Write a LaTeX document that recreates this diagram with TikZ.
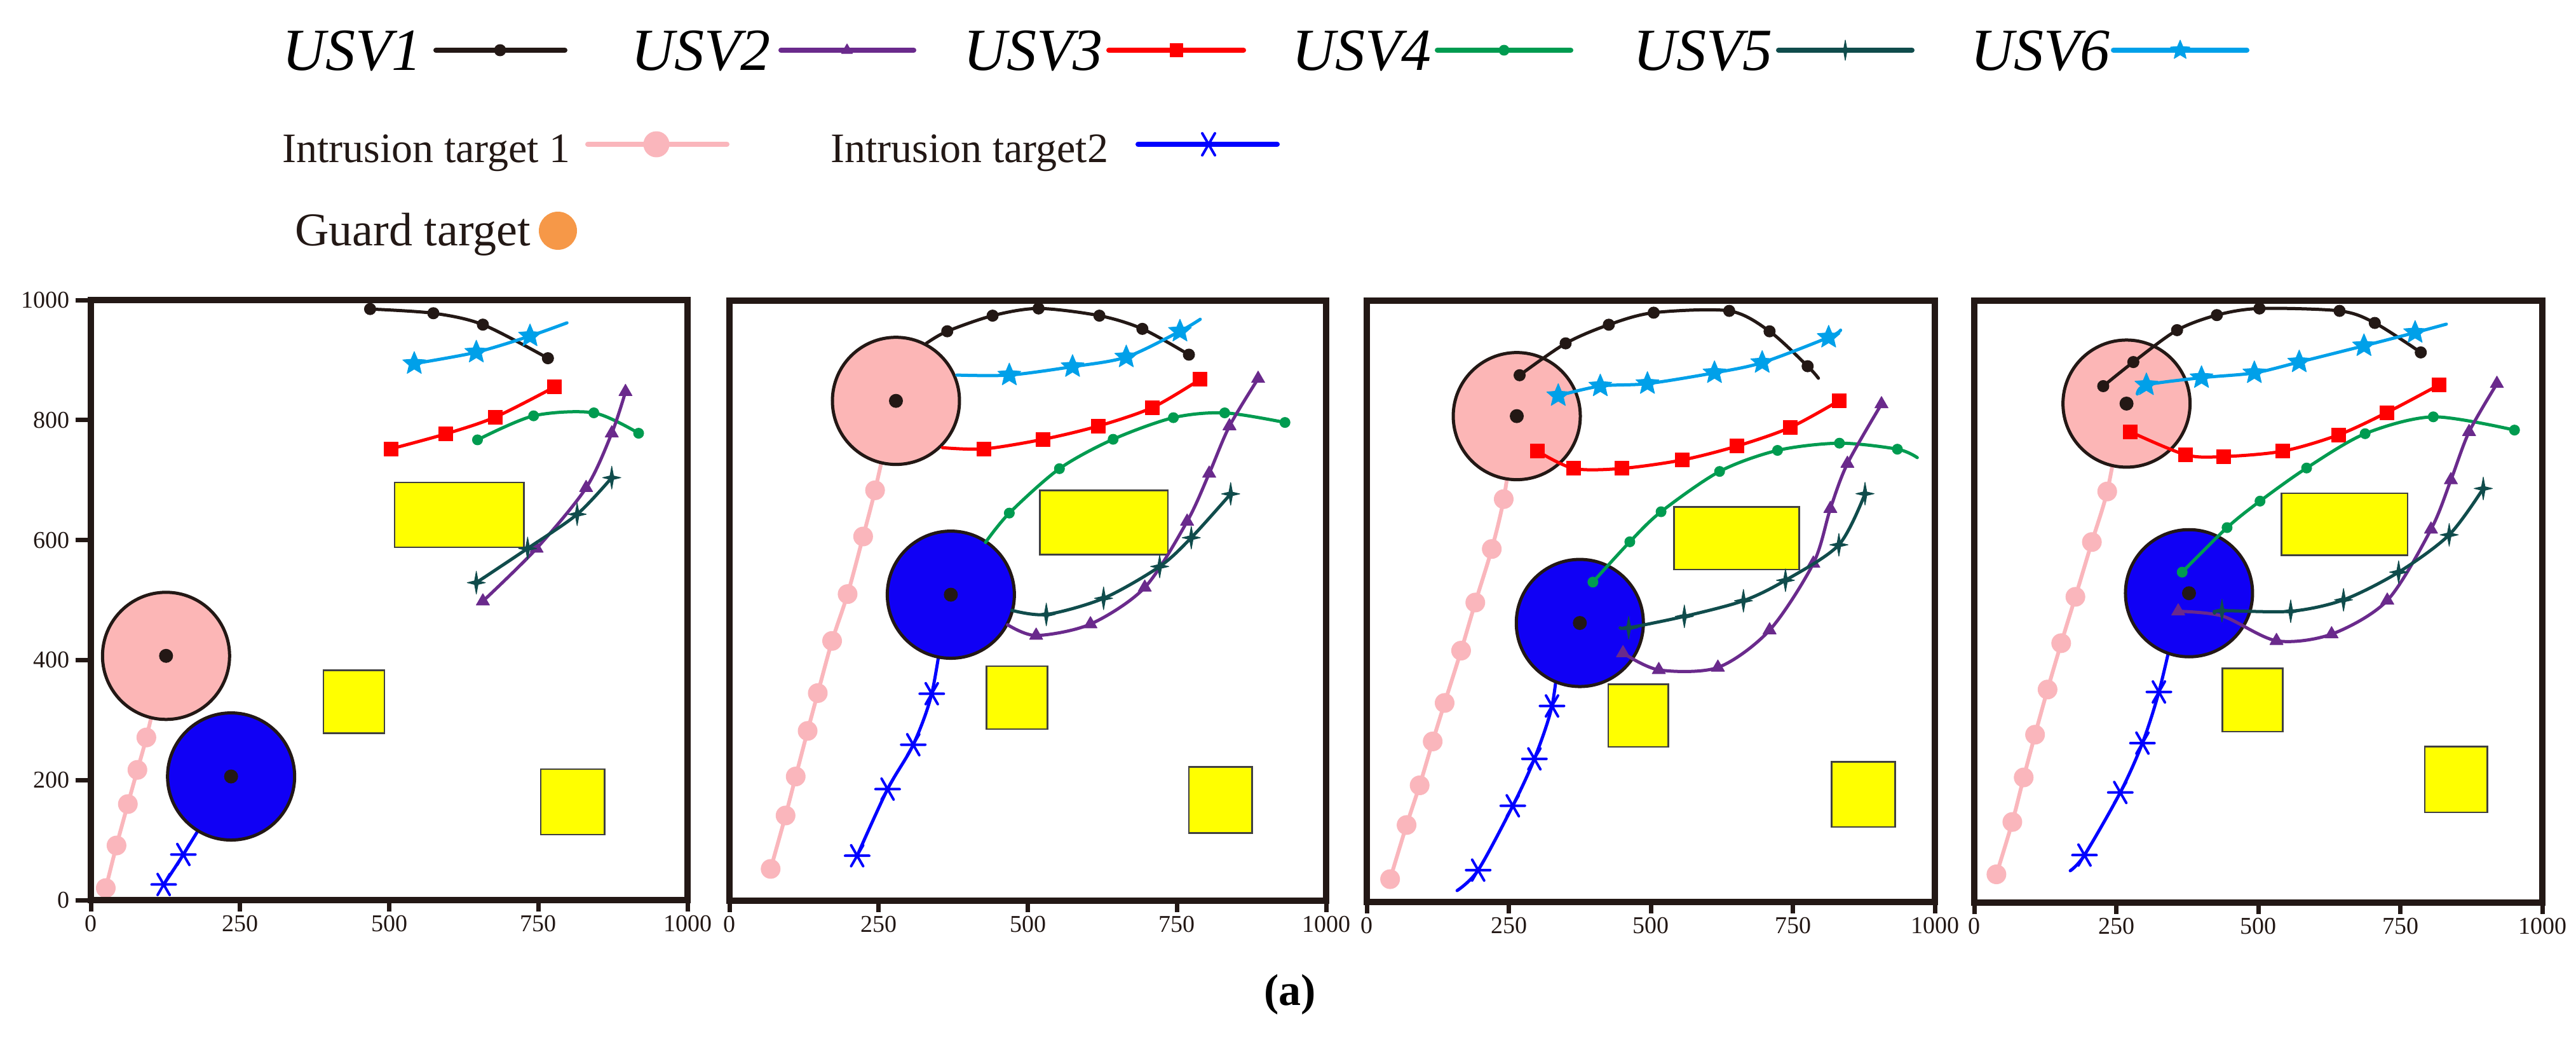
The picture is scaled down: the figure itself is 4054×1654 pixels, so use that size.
\documentclass[tikz,border=0pt]{standalone}
\usepackage{fontspec}
\setmainfont{Liberation Serif}
\usetikzlibrary{plotmarks}
\pgfdeclareplotmark{fivestar}{%
  \pgfpathmoveto{\pgfpointpolar{90}{\pgfplotmarksize}}%
  \pgfpathlineto{\pgfpointpolar{126}{0.45\pgfplotmarksize}}%
  \pgfpathlineto{\pgfpointpolar{162}{\pgfplotmarksize}}%
  \pgfpathlineto{\pgfpointpolar{198}{0.45\pgfplotmarksize}}%
  \pgfpathlineto{\pgfpointpolar{234}{\pgfplotmarksize}}%
  \pgfpathlineto{\pgfpointpolar{270}{0.45\pgfplotmarksize}}%
  \pgfpathlineto{\pgfpointpolar{306}{\pgfplotmarksize}}%
  \pgfpathlineto{\pgfpointpolar{342}{0.45\pgfplotmarksize}}%
  \pgfpathlineto{\pgfpointpolar{18}{\pgfplotmarksize}}%
  \pgfpathlineto{\pgfpointpolar{54}{0.45\pgfplotmarksize}}%
  \pgfpathclose\pgfusepathqfillstroke}
\pgfdeclareplotmark{fourstar}{%
  \pgfpathmoveto{\pgfpointpolar{90}{\pgfplotmarksize}}%
  \pgfpathlineto{\pgfpointpolar{45}{0.22\pgfplotmarksize}}%
  \pgfpathlineto{\pgfpointpolar{0}{0.8\pgfplotmarksize}}%
  \pgfpathlineto{\pgfpointpolar{-45}{0.22\pgfplotmarksize}}%
  \pgfpathlineto{\pgfpointpolar{-90}{\pgfplotmarksize}}%
  \pgfpathlineto{\pgfpointpolar{-135}{0.22\pgfplotmarksize}}%
  \pgfpathlineto{\pgfpointpolar{180}{0.8\pgfplotmarksize}}%
  \pgfpathlineto{\pgfpointpolar{135}{0.22\pgfplotmarksize}}%
  \pgfpathclose\pgfusepathqfillstroke}
\pgfdeclareplotmark{sixast}{%
  \pgfpathmoveto{\pgfpointpolar{0}{\pgfplotmarksize}}\pgfpathlineto{\pgfpointpolar{180}{\pgfplotmarksize}}%
  \pgfpathmoveto{\pgfpointpolar{60}{\pgfplotmarksize}}\pgfpathlineto{\pgfpointpolar{240}{\pgfplotmarksize}}%
  \pgfpathmoveto{\pgfpointpolar{120}{\pgfplotmarksize}}\pgfpathlineto{\pgfpointpolar{300}{\pgfplotmarksize}}%
  \pgfusepathqstroke}
\definecolor{cblk}{RGB}{35,24,21}
\definecolor{cpur}{RGB}{106,42,140}
\definecolor{cred}{RGB}{255,0,0}
\definecolor{cgrn}{RGB}{0,155,80}
\definecolor{cteal}{RGB}{16,76,76}
\definecolor{ccyan}{RGB}{0,160,233}
\definecolor{cpink}{RGB}{250,182,188}
\definecolor{cpinkdisk}{RGB}{252,182,182}
\definecolor{cblue}{RGB}{0,0,255}
\definecolor{cbluedisk}{RGB}{16,0,245}
\definecolor{cyel}{RGB}{255,255,0}
\definecolor{corange}{RGB}{246,152,72}
\tikzset{
  traj/.style={line width=5pt, line join=round, line cap=round},
  u1/.style={traj, color=cblk, mark=*, mark size=9pt, mark options={line width=1pt}},
  u2/.style={traj, color=cpur, mark=triangle*, mark size=12pt, mark options={line width=1pt}},
  u3/.style={traj, color=cred, mark=square*, mark size=11pt, mark options={line width=1pt}},
  u4/.style={traj, color=cgrn, mark=*, mark size=8pt, mark options={line width=1pt}},
  u5/.style={traj, color=cteal, mark=fourstar, mark size=18pt, mark options={line width=1pt}},
  u6/.style={traj, color=ccyan, mark=fivestar, mark size=19pt, mark options={line width=1pt}},
  it1/.style={traj, color=cpink, line width=6pt, mark=*, mark size=15pt, mark options={line width=1pt}},
  it2/.style={traj, color=cblue, mark=sixast, mark size=19pt, mark options={line width=4pt}},
  pdisk/.style={fill=cpinkdisk, draw=cblk, line width=5pt},
  bdisk/.style={fill=cbluedisk, draw=cblk, line width=5pt},
  cdot/.style={fill=cblk},
  obst/.style={fill=cyel, draw=black!75, line width=2.5pt},
  frame/.style={draw=cblk, line width=10pt, line join=miter},
  tickln/.style={draw=cblk, line width=7pt},
  ticklab/.style={font=\fontsize{38}{38}\selectfont, inner sep=0pt, text=cblk},
  usvlab/.style={font=\itshape\fontsize{94}{94}\selectfont, inner sep=0pt, anchor=base west},
  leglab/.style={font=\fontsize{66}{66}\selectfont, inner sep=0pt, anchor=base west, text=cblk},
}
\begin{document}
\begin{tikzpicture}[x=1pt, y=-1pt]
\fill[white] (0,0) rectangle (4054,1654);
\useasboundingbox (0,0) rectangle (4054,1654);

% ---------- legend ----------
\node[usvlab] (l1) at (444,110) {USV1};
\draw[u1, line width=8pt, mark indices={2}] plot coordinates {(686,79) (787,79) (889,79)};
\node[usvlab] (l2) at (993,110) {USV2};
\draw[u2, line width=8pt, mark size=10pt, mark indices={2}] plot coordinates {(1229,79) (1333,79) (1438,79)};
\node[usvlab] (l3) at (1516,110) {USV3};
\draw[u3, line width=8pt, mark size=10pt, mark indices={2}] plot coordinates {(1745,79) (1851,79) (1957,79)};
\node[usvlab] (l4) at (2033,110) {USV4};
\draw[u4, line width=8pt, mark indices={2}] plot coordinates {(2262,79) (2367,79) (2472,79)};
\node[usvlab] (l5) at (2570,110) {USV5};
\draw[u5, line width=8pt, mark size=16pt, mark indices={2}] plot coordinates {(2799,79) (2904,79) (3009,79)};
\node[usvlab] (l6) at (3101,110) {USV6};
\draw[u6, line width=8pt, mark size=16pt, mark indices={2}] plot coordinates {(3326,79) (3431,79) (3536,79)};

\node[leglab] (li1) at (444,255) {Intrusion target 1};
\draw[it1, line width=8pt, mark size=20pt, mark indices={2}] plot coordinates {(925,227) (1033,227) (1144,227)};
\node[leglab] (li2) at (1307,255) {Intrusion target2};
\draw[it2, line width=8pt, mark size=20pt, mark indices={2}] plot coordinates {(1791,227) (1902,227) (2010,227)};
\node[leglab, font=\fontsize{74}{74}\selectfont] (lg) at (464,386) {Guard target};
\fill[corange] (878,363) circle[radius=30pt];

% ---------- panel 1 ----------
\begin{scope}[shift={(143,1416)}, x={(0.939pt,0pt)}, y={(0pt,0.944pt)}]
\draw[it1, mark indices={1,...,5}] plot[smooth] coordinates {(25,20) (43,91) (62,160) (78,217) (93,271) (126,407)};
\draw[it2, mark indices={1,2}] plot[smooth] coordinates {(122,26) (155,76) (235,206)};
\filldraw[pdisk] (126,407) circle[radius=100pt];
\fill[cdot] (126,407) circle[radius=11pt];
\filldraw[bdisk] (235,206) circle[radius=100pt];
\fill[cdot] (235,206) circle[radius=11pt];
\filldraw[obst] (509,588) rectangle (726,696);
\filldraw[obst] (390,278) rectangle (492,383);
\filldraw[obst] (754,109) rectangle (861,218);
\draw[u1] plot[smooth] coordinates {(468,985) (574,978) (657,959) (766,903)};
\draw[u6, mark indices={1,2,3}] plot[smooth] coordinates {(542,894) (646,913) (736,940) (798,962)};
\draw[u3] plot[smooth] coordinates {(503,752) (595,777) (678,805) (777,855)};
\draw[u4] plot[smooth] coordinates {(648,767) (742,807) (843,812) (918,778)};
\draw[u2] plot[smooth] coordinates {(657,498) (747,586) (830,687) (873,778) (896,847)};
\draw[u5] plot[smooth] coordinates {(646,529) (732,586) (815,643) (873,704)};
\draw[frame] (0,0) rectangle (1000,1000);
\foreach \x in {0,250,500,750,1000} {
  \draw[tickln] (\x,0) -- ++(0,-18pt);
  \node[ticklab, anchor=north] (pa\x) at ([yshift=-24pt]\x,0) {\x};
}
\foreach \y in {0,200,400,600,800,1000} {
  \draw[tickln] (0,\y) -- ++(-24pt,0);
  \node[ticklab, anchor=east] (pay\y) at ([xshift=-33pt]0,\y) {\y};
}
\end{scope}

% ---------- panel 2 ----------
\begin{scope}[shift={(1148,1417)}, x={(0.939pt,0pt)}, y={(0pt,0.944pt)}]
\draw[it1, mark indices={1,...,9}] plot[smooth] coordinates {(69,53) (94,142) (111,207) (131,283) (148,346) (172,433) (198,511) (224,607) (244,684) (270,800)};
\draw[it2, mark indices={1,...,4}] plot[smooth] coordinates {(214,75) (265,186) (308,260) (339,345) (360,470)};
\filldraw[pdisk] (279,833) circle[radius=100pt];
\fill[cdot] (279,833) circle[radius=11pt];
\filldraw[bdisk] (371,510) circle[radius=100pt];
\fill[cdot] (371,510) circle[radius=11pt];
\filldraw[obst] (520,577) rectangle (735,684);
\filldraw[obst] (431,286) rectangle (533,391);
\filldraw[obst] (770,113) rectangle (876,223);
\draw[u1, mark indices={2,...,7}] plot[smooth] coordinates {(330,929) (365,949) (441,975) (518,987) (620,975) (692,953) (770,910)};
\draw[u6, mark indices={2,...,5}] plot[smooth] coordinates {(381,876) (469,876) (575,890) (665,906) (755,949) (789,969)};
\draw[u3, mark indices={2,...,6}] plot[smooth] coordinates {(357,755) (427,753) (526,769) (618,791) (709,822) (789,869)};
\draw[u4, mark indices={2,...,7}] plot[smooth] coordinates {(429,597) (469,646) (553,720) (643,769) (744,805) (830,813) (931,797)};
\draw[u2, mark indices={2,...,8}] plot[smooth] coordinates {(466,460) (514,442) (605,461) (696,522) (767,632) (804,712) (838,791) (886,870)};
\draw[u5, mark indices={2,...,6}] plot[smooth] coordinates {(473,484) (531,477) (627,504) (721,557) (774,605) (840,678)};
\draw[frame] (0,0) rectangle (1000,1000);
\foreach \x in {0,250,500,750,1000} {
  \draw[tickln] (\x,0) -- ++(0,-18pt);
  \node[ticklab, anchor=north] (pb\x) at ([yshift=-24pt]\x,0) {\x};
}
\end{scope}

% ---------- panel 3 ----------
\begin{scope}[shift={(2151,1419)}, x={(0.894pt,0pt)}, y={(0pt,0.946pt)}]
\draw[it1, mark indices={1,...,9}] plot[smooth] coordinates {(41,38) (70,128) (93,194) (116,267) (137,331) (166,418) (191,498) (220,587) (241,670) (258,780)};
\draw[it2, mark indices={2,...,5}] plot[smooth] coordinates {(159,19) (196,53) (257,160) (295,238) (326,326) (340,430)};
\filldraw[pdisk] (264,808) circle[radius=100pt];
\fill[cdot] (264,808) circle[radius=11pt];
\filldraw[bdisk] (375,464) circle[radius=100pt];
\fill[cdot] (375,464) circle[radius=11pt];
\filldraw[obst] (541,553) rectangle (761,657);
\filldraw[obst] (425,258) rectangle (531,362);
\filldraw[obst] (818,125) rectangle (930,233);
\draw[u1, mark indices={1,...,7}] plot[smooth] coordinates {(269,876) (350,929) (426,960) (505,980) (638,983) (709,949) (776,891) (795,871)};
\draw[u6, mark indices={1,...,6}] plot[smooth] coordinates {(337,842) (411,858) (494,862) (612,880) (696,897) (813,939) (834,951)};
\draw[u3] plot[smooth] coordinates {(300,750) (364,721) (449,721) (555,735) (651,758) (745,789) (832,834)};
\draw[u4, mark indices={1,...,7}] plot[smooth] coordinates {(398,532) (463,599) (518,649) (621,716) (723,751) (832,763) (934,753) (969,739)};
\draw[u2] plot[smooth] coordinates {(451,414) (514,386) (618,390) (709,452) (786,563) (816,654) (846,729) (906,828)};
\draw[u5, mark indices={2,...,7}] plot[smooth] coordinates {(446,456) (461,456) (559,475) (663,501) (737,535) (831,594) (877,679)};
\draw[frame] (0,0) rectangle (1000,1000);
\foreach \x in {0,250,500,750,1000} {
  \draw[tickln] (\x,0) -- ++(0,-18pt);
  \node[ticklab, anchor=north] (pc\x) at ([yshift=-24pt]\x,0) {\x};
}
\end{scope}

% ---------- panel 4 ----------
\begin{scope}[shift={(3107,1420)}, x={(0.894pt,0pt)}, y={(0pt,0.947pt)}]
\draw[it1, mark indices={1,...,9}] plot[smooth] coordinates {(39,47) (67,134) (87,208) (107,279) (129,354) (153,431) (178,508) (207,599) (234,683) (255,790)};
\draw[it2, mark indices={2,...,5}] plot[smooth] coordinates {(169,53) (194,79) (257,183) (296,265) (325,350) (350,450)};
\filldraw[pdisk] (268,829) circle[radius=100pt];
\fill[cdot] (268,829) circle[radius=11pt];
\filldraw[bdisk] (378,514) circle[radius=100pt];
\fill[cdot] (378,514) circle[radius=11pt];
\filldraw[obst] (541,577) rectangle (763,680);
\filldraw[obst] (437,284) rectangle (543,389);
\filldraw[obst] (793,150) rectangle (903,259);
\draw[u1] plot[smooth] coordinates {(227,858) (280,898) (357,951) (427,976) (502,987) (643,983) (705,963) (786,914)};
\draw[u6, mark indices={2,...,7}] plot[smooth] coordinates {(287,845) (303,860) (400,872) (493,880) (572,898) (686,925) (776,947) (831,961)};
\draw[u3] plot[smooth] coordinates {(275,782) (372,744) (439,741) (543,750) (641,777) (726,814) (818,860)};
\draw[u4] plot[smooth] coordinates {(366,549) (445,623) (503,667) (585,722) (688,779) (808,807) (951,785)};
\draw[u2, mark indices={1,3,4,5,6,7,8,9}] plot[smooth] coordinates {(359,484) (437,476) (532,435) (629,446) (727,502) (804,620) (839,702) (871,782) (920,862)};
\draw[u5, mark indices={2,...,7}] plot[smooth] coordinates {(423,481) (436,485) (557,484) (650,503) (747,549) (836,611) (896,688)};
\draw[frame] (0,0) rectangle (1000,1000);
\foreach \x in {0,250,500,750,1000} {
  \draw[tickln] (\x,0) -- ++(0,-18pt);
  \node[ticklab, anchor=north] (pd\x) at ([yshift=-24pt]\x,0) {\x};
}
\end{scope}

\node[font=\bfseries\fontsize{70}{70}\selectfont, inner sep=0pt] (cap) at (2030,1565) {(a)};
\end{tikzpicture}
\end{document}
